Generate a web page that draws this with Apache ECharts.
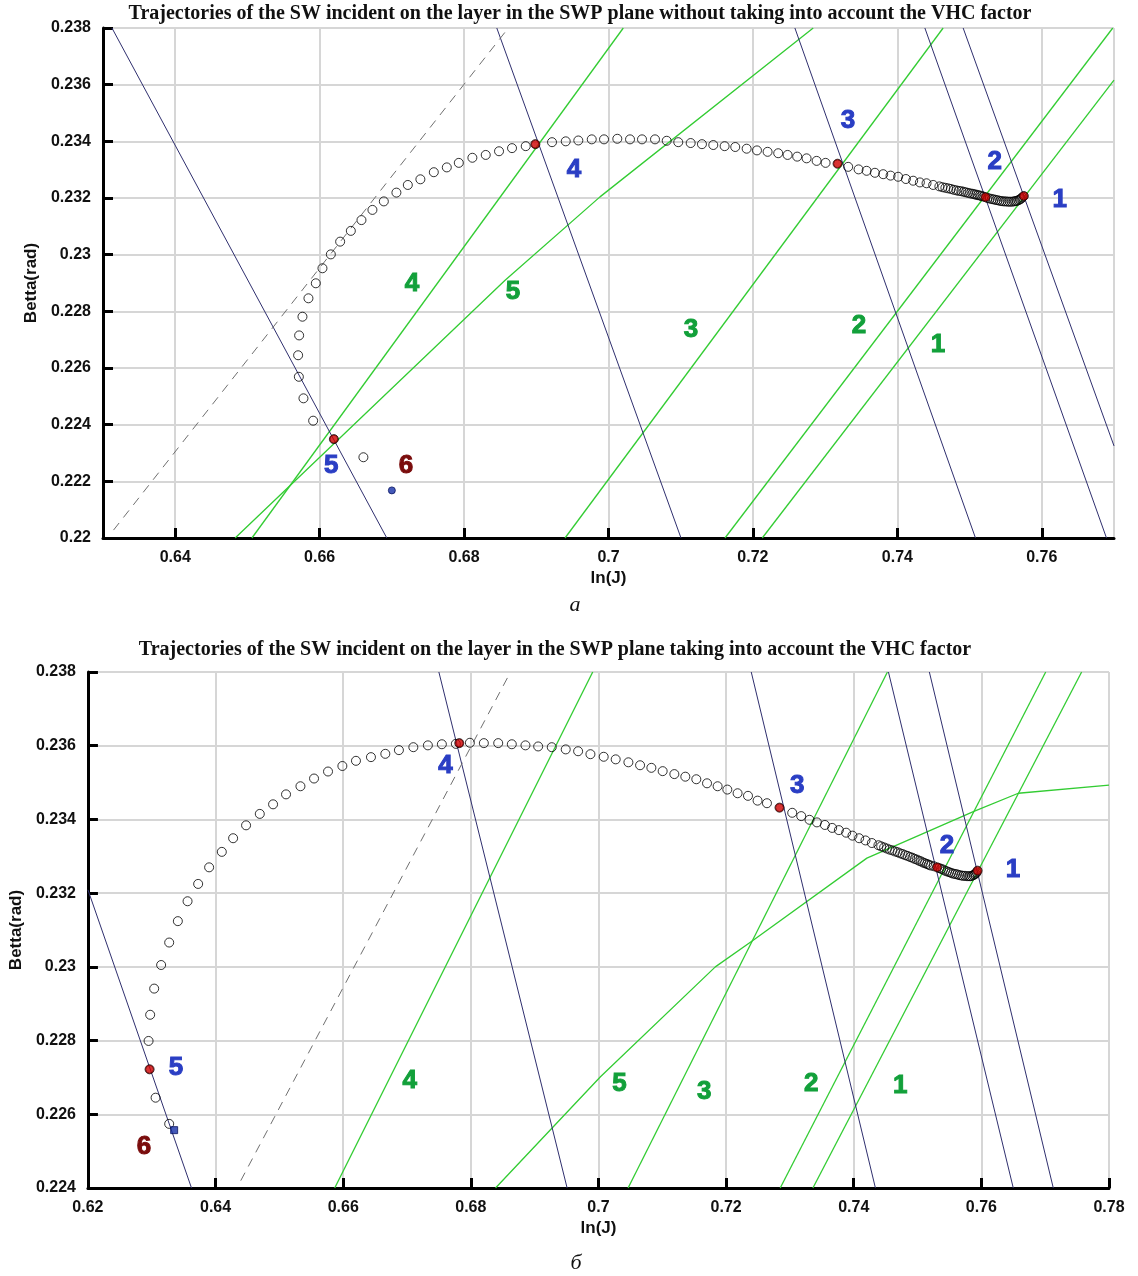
<!DOCTYPE html>
<html>
<head>
<meta charset="utf-8">
<script src="https://cdn.jsdelivr.net/npm/echarts@6/dist/echarts.min.js"></script>
<style>
  body { margin: 0; background: #fff; }
  #chart { width: 1138px; height: 1276px; }
</style>
</head>
<body>
<div id="chart"></div>
<script>
// ---------- panel a (without VHC factor) ----------
var trajA = [
  [0.66606, 0.22285], [0.66197, 0.22349], [0.65910, 0.22414], [0.65776, 0.22493], [0.65712, 0.22569],
  [0.65702, 0.22645], [0.65716, 0.22715], [0.65762, 0.22781], [0.65845, 0.22846], [0.65947, 0.22899],
  [0.66039, 0.22952], [0.66155, 0.23001], [0.66284, 0.23046], [0.66432, 0.23084], [0.66579, 0.23122],
  [0.66731, 0.23158], [0.66889, 0.23188], [0.67063, 0.23219], [0.67221, 0.23246], [0.67395, 0.23266],
  [0.67581, 0.23291], [0.67761, 0.23308], [0.67927, 0.23324], [0.68115, 0.23342], [0.68300, 0.23352],
  [0.68484, 0.23365], [0.68664, 0.23376], [0.68854, 0.23383], [0.68987, 0.23390], [0.69218, 0.23397],
  [0.69408, 0.23400], [0.69582, 0.23403], [0.69768, 0.23407], [0.69938, 0.23407], [0.70122, 0.23409],
  [0.70298, 0.23407], [0.70464, 0.23407], [0.70644, 0.23407], [0.70806, 0.23402], [0.70966, 0.23397],
  [0.71138, 0.23394], [0.71294, 0.23390], [0.71451, 0.23387], [0.71608, 0.23383], [0.71755, 0.23380],
  [0.71913, 0.23374], [0.72056, 0.23368], [0.72203, 0.23363], [0.72350, 0.23358], [0.72480, 0.23352],
  [0.72613, 0.23346], [0.72743, 0.23340], [0.72882, 0.23331], [0.73006, 0.23324], [0.73172, 0.23321],
  [0.73319, 0.23310], [0.73463, 0.23301], [0.73574, 0.23296], [0.73689, 0.23289], [0.73804, 0.23284],
  [0.73906, 0.23279], [0.74011, 0.23275], [0.74118, 0.23267], [0.74219, 0.23261], [0.74312, 0.23255],
  [0.74404, 0.23252], [0.74496, 0.23246], [0.74582, 0.23241], [0.74625, 0.23238], [0.74665, 0.23236],
  [0.74703, 0.23234], [0.74741, 0.23232], [0.74780, 0.23229], [0.74817, 0.23227], [0.74850, 0.23225],
  [0.74886, 0.23224], [0.74917, 0.23222], [0.74948, 0.23220], [0.74980, 0.23218], [0.75010, 0.23216],
  [0.75040, 0.23215], [0.75066, 0.23213], [0.75090, 0.23212], [0.75114, 0.23210], [0.75140, 0.23209],
  [0.75163, 0.23207], [0.75192, 0.23205], [0.75221, 0.23203], [0.75250, 0.23200], [0.75280, 0.23198],
  [0.75310, 0.23196], [0.75336, 0.23195], [0.75364, 0.23193], [0.75391, 0.23192], [0.75420, 0.23190],
  [0.75447, 0.23189], [0.75475, 0.23188], [0.75502, 0.23188], [0.75530, 0.23187], [0.75557, 0.23187],
  [0.75585, 0.23187], [0.75613, 0.23188], [0.75634, 0.23189], [0.75654, 0.23190], [0.75676, 0.23192],
  [0.75696, 0.23195], [0.75714, 0.23198], [0.75730, 0.23202], [0.75751, 0.23207]
];
var crossA = [[0.66197, 0.22349], [0.68987, 0.23390], [0.73172, 0.23321], [0.75221, 0.23203], [0.75751, 0.23207]];
var endA = [[0.67000, 0.22168]];

var blueA = [
  [[0.74911, 0.238], [0.77000, 0.22325]],
  [[0.74381, 0.238], [0.76896, 0.220]],
  [[0.72581, 0.238], [0.75082, 0.220]],
  [[0.68453, 0.238], [0.71004, 0.220]],
  [[0.63124, 0.238], [0.66930, 0.220]]
];
var greenA = [
  [[0.72129, 0.220], [0.77000, 0.23616]],
  [[0.71613, 0.220], [0.76983, 0.238]],
  [[0.69398, 0.220], [0.74634, 0.238]],
  [[0.65062, 0.220], [0.70205, 0.238]],
  [[0.64830, 0.220], [0.68568, 0.22910], [0.69882, 0.23204], [0.72835, 0.238]]
];
var dashA = [[0.63146, 0.22028], [0.68613, 0.238]];

var blueTextA = [[0.76249, 0.23193, '1'], [0.75350, 0.23327, '2'], [0.73315, 0.23472, '3'], [0.69523, 0.23299, '4'], [0.66159, 0.22254, '5']];
var greenTextA = [[0.74561, 0.22681, '1'], [0.73467, 0.22748, '2'], [0.71142, 0.22734, '3'], [0.67280, 0.22896, '4'], [0.68678, 0.22868, '5']];
var redTextA = [[0.67197, 0.22254, '6']];

// ---------- panel b (with VHC factor) ----------
var trajB = [
  [0.63273, 0.22574], [0.63060, 0.22645], [0.62966, 0.22722], [0.62950, 0.22799], [0.62975, 0.22870],
  [0.63038, 0.22941], [0.63147, 0.23005], [0.63273, 0.23066], [0.63409, 0.23124], [0.63561, 0.23178],
  [0.63727, 0.23225], [0.63899, 0.23270], [0.64098, 0.23312], [0.64275, 0.23349], [0.64478, 0.23384],
  [0.64693, 0.23415], [0.64901, 0.23441], [0.65104, 0.23468], [0.65330, 0.23490], [0.65543, 0.23511],
  [0.65762, 0.23530], [0.65987, 0.23545], [0.66200, 0.23559], [0.66435, 0.23569], [0.66660, 0.23578],
  [0.66873, 0.23588], [0.67099, 0.23596], [0.67327, 0.23601], [0.67546, 0.23604], [0.67765, 0.23605],
  [0.67819, 0.23607], [0.67985, 0.23608], [0.68204, 0.23607], [0.68429, 0.23607], [0.68642, 0.23604],
  [0.68856, 0.23601], [0.69055, 0.23598], [0.69268, 0.23596], [0.69487, 0.23590], [0.69681, 0.23585],
  [0.69874, 0.23577], [0.70082, 0.23570], [0.70270, 0.23563], [0.70469, 0.23555], [0.70652, 0.23547],
  [0.70829, 0.23540], [0.71006, 0.23531], [0.71189, 0.23523], [0.71361, 0.23516], [0.71533, 0.23509],
  [0.71701, 0.23498], [0.71867, 0.23490], [0.72019, 0.23481], [0.72180, 0.23471], [0.72343, 0.23464],
  [0.72493, 0.23451], [0.72640, 0.23444], [0.72837, 0.23432], [0.73036, 0.23418], [0.73177, 0.23409],
  [0.73307, 0.23399], [0.73423, 0.23392], [0.73548, 0.23385], [0.73662, 0.23377], [0.73767, 0.23371],
  [0.73881, 0.23364], [0.73980, 0.23356], [0.74085, 0.23349], [0.74184, 0.23343], [0.74284, 0.23336],
  [0.74387, 0.23330], [0.74430, 0.23327], [0.74476, 0.23324], [0.74520, 0.23321], [0.74562, 0.23318],
  [0.74605, 0.23316], [0.74648, 0.23313], [0.74688, 0.23311], [0.74727, 0.23308], [0.74766, 0.23306],
  [0.74805, 0.23303], [0.74844, 0.23301], [0.74883, 0.23298], [0.74920, 0.23296], [0.74954, 0.23293],
  [0.74990, 0.23291], [0.75024, 0.23288], [0.75055, 0.23286], [0.75087, 0.23283], [0.75118, 0.23281],
  [0.75149, 0.23279], [0.75176, 0.23277], [0.75204, 0.23275], [0.75255, 0.23273], [0.75306, 0.23270],
  [0.75338, 0.23268], [0.75369, 0.23266], [0.75400, 0.23264], [0.75431, 0.23261], [0.75462, 0.23259],
  [0.75494, 0.23257], [0.75525, 0.23255], [0.75556, 0.23253], [0.75588, 0.23252], [0.75619, 0.23251],
  [0.75650, 0.23249], [0.75682, 0.23248], [0.75713, 0.23247], [0.75744, 0.23247], [0.75776, 0.23246],
  [0.75807, 0.23246], [0.75830, 0.23246], [0.75854, 0.23247], [0.75875, 0.23249], [0.75893, 0.23251],
  [0.75910, 0.23253], [0.75924, 0.23256], [0.75940, 0.23261]
];
var crossB = [[0.62966, 0.22722], [0.67819, 0.23607], [0.72837, 0.23432], [0.75306, 0.23270], [0.75940, 0.23261]];
var endB = [[0.63351, 0.22557]];

var blueB = [
  [[0.75185, 0.238], [0.77127, 0.224]],
  [[0.74544, 0.238], [0.76500, 0.224]],
  [[0.72394, 0.238], [0.74340, 0.224]],
  [[0.67499, 0.238], [0.69509, 0.224]],
  [[0.62000, 0.23209], [0.63623, 0.224]]
];
var greenB = [
  [[0.73360, 0.224], [0.77571, 0.238]],
  [[0.72848, 0.224], [0.77008, 0.238]],
  [[0.70464, 0.224], [0.74528, 0.238]],
  [[0.65867, 0.224], [0.69910, 0.238]],
  [[0.68387, 0.224], [0.70031, 0.22702], [0.71831, 0.23000], [0.72430, 0.23073], [0.74206, 0.23295],
   [0.75874, 0.23421], [0.76579, 0.23471], [0.78000, 0.23493]]
];
var dashB = [[0.64395, 0.2242], [0.68622, 0.238]];

var blueTextB = [[0.76496, 0.23263, '1'], [0.75462, 0.23328, '2'], [0.73114, 0.23491, '3'], [0.67604, 0.23545, '4'], [0.63378, 0.22726, '5']];
var greenTextB = [[0.74727, 0.22677, '1'], [0.73333, 0.22682, '2'], [0.71659, 0.22660, '3'], [0.67041, 0.22690, '4'], [0.70328, 0.22682, '5']];
var redTextB = [[0.62877, 0.22511, '6']];

var titleA = 'Trajectories of the SW incident on the layer in the SWP plane without taking into account the VHC factor';
var titleB = 'Trajectories of the SW incident on the layer in the SWP plane taking into account the VHC factor';

var BLUE = '#2f2f6e';
var GREEN = '#33cc33';
var SANS = 'Liberation Sans, Arial, sans-serif';
var SERIF = 'Liberation Serif, Times New Roman, serif';

function xAxisOf(gi, min, max) {
  return {
    type: 'value', gridIndex: gi, min: min, max: max,
    splitNumber: 8, minInterval: 0.02, maxInterval: 0.02,
    name: 'ln(J)', nameLocation: 'middle', nameGap: 32,
    nameTextStyle: { fontFamily: SANS, fontWeight: 'bold', fontSize: 17, color: '#111' },
    axisLine: { onZero: false, lineStyle: { color: '#000', width: 3 } },
    axisTick: { inside: true, length: 10, lineStyle: { color: '#000', width: 3 } },
    axisLabel: { fontFamily: SANS, fontWeight: 'bold', fontSize: 16, color: '#111', margin: 12,
                 showMinLabel: min === 0.62, showMaxLabel: min === 0.62 },
    splitLine: { show: true, lineStyle: { color: '#d6d6d6', width: 2 } }
  };
}
function yAxisOf(gi, min, max, gap) {
  return {
    type: 'value', gridIndex: gi, min: min, max: max, interval: 0.002,
    name: 'Betta(rad)', nameLocation: 'middle', nameGap: gap, nameRotate: 90,
    nameTextStyle: { fontFamily: SANS, fontWeight: 'bold', fontSize: 17, color: '#111' },
    axisLine: { onZero: false, lineStyle: { color: '#000', width: 3 } },
    axisTick: { inside: true, length: 10, lineStyle: { color: '#000', width: 3 } },
    axisLabel: { fontFamily: SANS, fontWeight: 'bold', fontSize: 16, color: '#111', margin: 12 },
    splitLine: { show: true, lineStyle: { color: '#d6d6d6', width: 2 } }
  };
}
function lineOf(gi, data, color, width, dashed) {
  return {
    type: 'line', xAxisIndex: gi, yAxisIndex: gi, data: data, symbol: 'none', silent: true,
    lineStyle: { color: color, width: width, type: dashed ? [9, 7] : 'solid' }, z: 2
  };
}
function textOf(gi, data, color) {
  return {
    type: 'scatter', xAxisIndex: gi, yAxisIndex: gi, data: data, symbolSize: 1, silent: true,
    itemStyle: { color: 'transparent' }, z: 6,
    label: { show: true, position: 'inside', formatter: function (p) { return p.value[2]; },
             fontFamily: SANS, fontWeight: 'bold', fontSize: 26, color: color, opacity: 1,
             textBorderColor: color, textBorderWidth: 1 }
  };
}
function panelSeries(gi, traj, cross, end, endSymbol, blue, green, dash, bt, gt, rt) {
  var s = [];
  green.forEach(function (d) { s.push(lineOf(gi, d, GREEN, 1.3, false)); });
  blue.forEach(function (d) { s.push(lineOf(gi, d, BLUE, 1, false)); });
  s.push(lineOf(gi, dash, '#707070', 1, true));
  s.push({
    type: 'scatter', xAxisIndex: gi, yAxisIndex: gi, data: traj, symbol: 'circle', symbolSize: 9, z: 4,
    itemStyle: { color: 'rgba(255,255,255,0)', borderColor: '#000', borderWidth: 1 }
  });
  s.push({
    type: 'scatter', xAxisIndex: gi, yAxisIndex: gi, data: cross, symbol: 'circle', symbolSize: 8, z: 5,
    itemStyle: { color: '#d00000', borderColor: '#5a0000', borderWidth: 1 }
  });
  s.push({
    type: 'scatter', xAxisIndex: gi, yAxisIndex: gi, data: end, symbol: endSymbol, symbolSize: 7, z: 5,
    itemStyle: { color: '#1530a8', borderColor: '#0a1560', borderWidth: 1 }
  });
  s.push(textOf(gi, bt, '#2a3ec4'));
  s.push(textOf(gi, gt, '#12a03a'));
  s.push(textOf(gi, rt, '#7a0c0c'));
  return s;
}

var chart = echarts.init(document.getElementById('chart'));
var option = {
  animation: false,
  backgroundColor: '#fff',
  grid: [
    { left: 103, top: 28, width: 1011, height: 510 },
    { left: 87, top: 672, width: 1022, height: 516 }
  ],
  xAxis: [xAxisOf(0, 0.63, 0.77), xAxisOf(1, 0.62, 0.78)],
  yAxis: [yAxisOf(0, 0.22, 0.238, 55), yAxisOf(1, 0.224, 0.238, 60)],
  graphic: [
    { type: 'text', x: 580, y: 4, style: { text: titleA, font: 'bold 20px ' + SERIF, fill: '#111', textAlign: 'center' } },
    { type: 'text', x: 555, y: 640, style: { text: titleB, font: 'bold 20px ' + SERIF, fill: '#111', textAlign: 'center' } },
    { type: 'text', x: 575, y: 594, style: { text: 'а', font: 'italic 22px ' + SERIF, fill: '#111', textAlign: 'center' } },
    { type: 'text', x: 576, y: 1252, style: { text: 'б', font: 'italic 22px ' + SERIF, fill: '#111', textAlign: 'center' } }
  ],
  series: panelSeries(0, trajA, crossA, endA, 'circle', blueA, greenA, dashA, blueTextA, greenTextA, redTextA)
    .concat(panelSeries(1, trajB, crossB, endB, 'rect', blueB, greenB, dashB, blueTextB, greenTextB, redTextB))
};
chart.setOption(option);
</script>
</body>
</html>
